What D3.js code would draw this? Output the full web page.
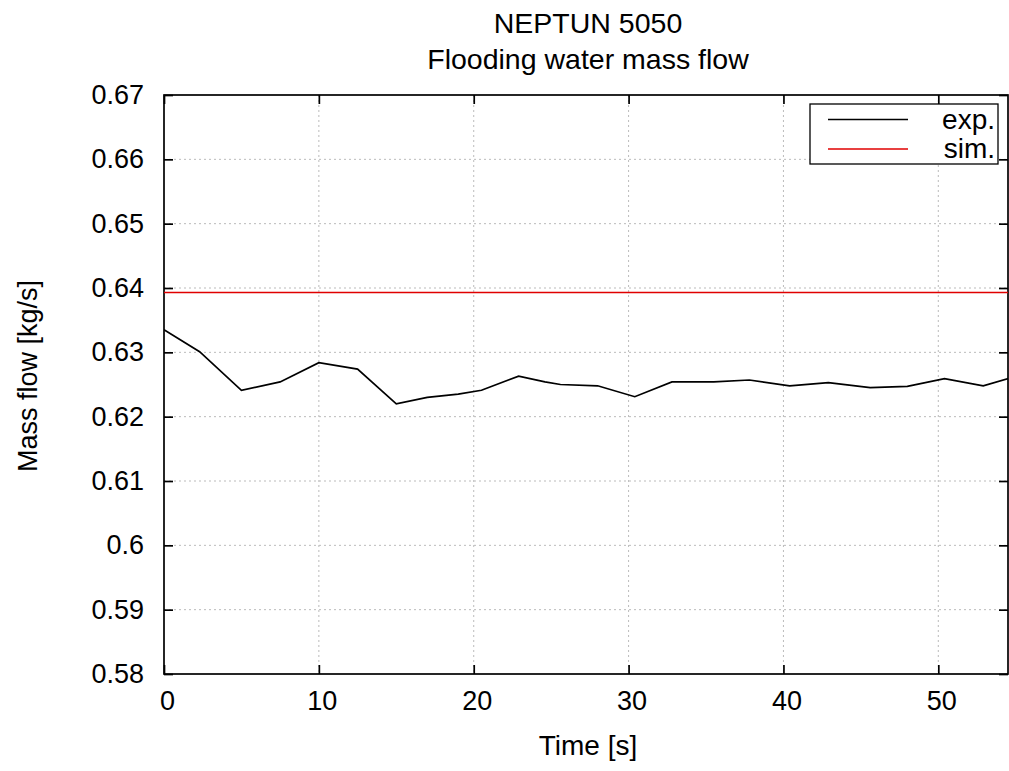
<!DOCTYPE html>
<html>
<head>
<meta charset="utf-8">
<script src="https://cdn.jsdelivr.net/npm/d3@7"></script>
<style>
  body { margin: 0; background: #fff; }
  text { font-family: "Liberation Sans", Arial, Helvetica, sans-serif; fill: #000; }
</style>
</head>
<body>
<div id="graph-container"></div>
<script>
const timeExp = [0, 2.3, 5.0, 7.5, 10.0, 12.5, 15.0, 17.0, 19.0, 20.5, 22.9, 24.6, 25.6, 28.0,
                 30.4, 32.8, 35.5, 37.8, 40.4, 42.9, 45.6, 48.0, 50.4, 52.9, 54.6];
const flowExp = [0.6335, 0.6301, 0.6241, 0.6254, 0.6284, 0.6274, 0.6220, 0.6230, 0.6235, 0.6241,
                 0.6263, 0.6254, 0.6250, 0.6248, 0.6231, 0.6254, 0.6254, 0.6257, 0.6248, 0.6253,
                 0.6245, 0.6247, 0.6259, 0.6248, 0.6260];
// Simulation series (constant)
const timeSim = [0, 54.6];
const flowSim = [0.6393, 0.6393];

const xTicks = [0, 10, 20, 30, 40, 50];
const yTicks = [0.58, 0.59, 0.6, 0.61, 0.62, 0.63, 0.64, 0.65, 0.66, 0.67];
const seriesNames = ["exp.", "sim."];
const seriesColors = ["#000000", "#e00000"];

const svgWidth = 1009, svgHeight = 771;
const margin = { top: 95, right: 1, bottom: 97, left: 164 };
const width = svgWidth - margin.left - margin.right;
const height = svgHeight - margin.top - margin.bottom;
const fs = 27;

const svg = d3.select("#graph-container").append("svg")
    .attr("width", svgWidth)
    .attr("height", svgHeight);

const g = svg.append("g")
    .attr("transform", `translate(${margin.left}, ${margin.top})`);

const x = d3.scaleLinear().domain([0, 54.5]).range([0, width]);
const y = d3.scaleLinear().domain([0.58, 0.67]).range([height, 0]);

// Grid
g.append("g").selectAll("line").data(xTicks.slice(1)).join("line")
    .attr("x1", d => x(d)).attr("x2", d => x(d))
    .attr("y1", 0).attr("y2", height)
    .attr("stroke", "#bbb").attr("stroke-dasharray", "2,3");
g.append("g").selectAll("line").data(yTicks.slice(1, -1)).join("line")
    .attr("x1", 0).attr("x2", width)
    .attr("y1", d => y(d)).attr("y2", d => y(d))
    .attr("stroke", "#bbb").attr("stroke-dasharray", "2,3");

// Axes with inward ticks (mirrored)
const tk = 9;
g.append("g").attr("transform", `translate(0, ${height})`)
    .call(d3.axisBottom(x).tickValues(xTicks).tickSize(-tk).tickPadding(17).tickFormat(d3.format("d")))
    .call(a => a.select(".domain").remove());
g.append("g")
    .call(d3.axisTop(x).tickValues(xTicks).tickSize(-tk).tickFormat(""))
    .call(a => a.select(".domain").remove());
g.append("g")
    .call(d3.axisLeft(y).tickValues(yTicks).tickSize(-tk).tickPadding(20).tickFormat(d3.format("~g")))
    .call(a => a.select(".domain").remove());
g.append("g").attr("transform", `translate(${width}, 0)`)
    .call(d3.axisRight(y).tickValues(yTicks).tickSize(-tk).tickFormat(""))
    .call(a => a.select(".domain").remove());

g.selectAll(".tick line").attr("stroke", "#000").attr("stroke-width", 1.7);
g.selectAll(".tick text")
    .style("font-family", '"Liberation Sans", Arial, sans-serif')
    .style("font-size", fs + "px")
    .attr("fill", "#000");
g.selectAll(".tick text").filter(function () { return this.getAttribute("dy") === "0.71em"; })
    .attr("dx", "3");

// Border
g.append("rect")
    .attr("width", width).attr("height", height)
    .attr("fill", "none").attr("stroke", "#000").attr("stroke-width", 1.7);

// Lines
const line = d3.line().x(d => x(d[0])).y(d => y(d[1]));
const clip = svg.append("clipPath").attr("id", "clip").append("rect")
    .attr("width", width).attr("height", height);
g.append("path")
    .datum(timeSim.map((t, i) => [t, flowSim[i]]))
    .attr("clip-path", "url(#clip)")
    .attr("d", line).attr("fill", "none")
    .attr("stroke", seriesColors[1]).attr("stroke-width", 1.7);
g.append("path")
    .datum(timeExp.map((t, i) => [t, flowExp[i]]))
    .attr("clip-path", "url(#clip)")
    .attr("d", line).attr("fill", "none")
    .attr("stroke", seriesColors[0]).attr("stroke-width", 1.7);

// Legend
const lg = svg.append("g");
lg.append("rect")
    .attr("x", 810).attr("y", 104).attr("width", 188).attr("height", 60)
    .attr("fill", "#fff").attr("stroke", "#000").attr("stroke-width", 1.3);
seriesNames.forEach((name, i) => {
    const ly = 119.5 + i * 29.5;
    lg.append("line")
        .attr("x1", 828).attr("x2", 908).attr("y1", ly).attr("y2", ly)
        .attr("stroke", seriesColors[i]).attr("stroke-width", 1.7);
    lg.append("text")
        .attr("x", 995).attr("y", ly + 9)
        .attr("text-anchor", "end")
        .style("font-size", "28px")
        .text(name);
});

// Titles
svg.append("text").attr("x", 588).attr("y", 33).attr("text-anchor", "middle")
    .style("font-size", "28.5px").text("NEPTUN 5050");
svg.append("text").attr("x", 588).attr("y", 69).attr("text-anchor", "middle")
    .style("font-size", "28.5px").text("Flooding water mass flow");
svg.append("text").attr("x", 588).attr("y", 755).attr("text-anchor", "middle")
    .style("font-size", "28px").text("Time [s]");
svg.append("text")
    .attr("transform", "translate(37, 376) rotate(-90)")
    .attr("text-anchor", "middle")
    .style("font-size", fs + "px").text("Mass flow [kg/s]");
</script>
</body>
</html>
